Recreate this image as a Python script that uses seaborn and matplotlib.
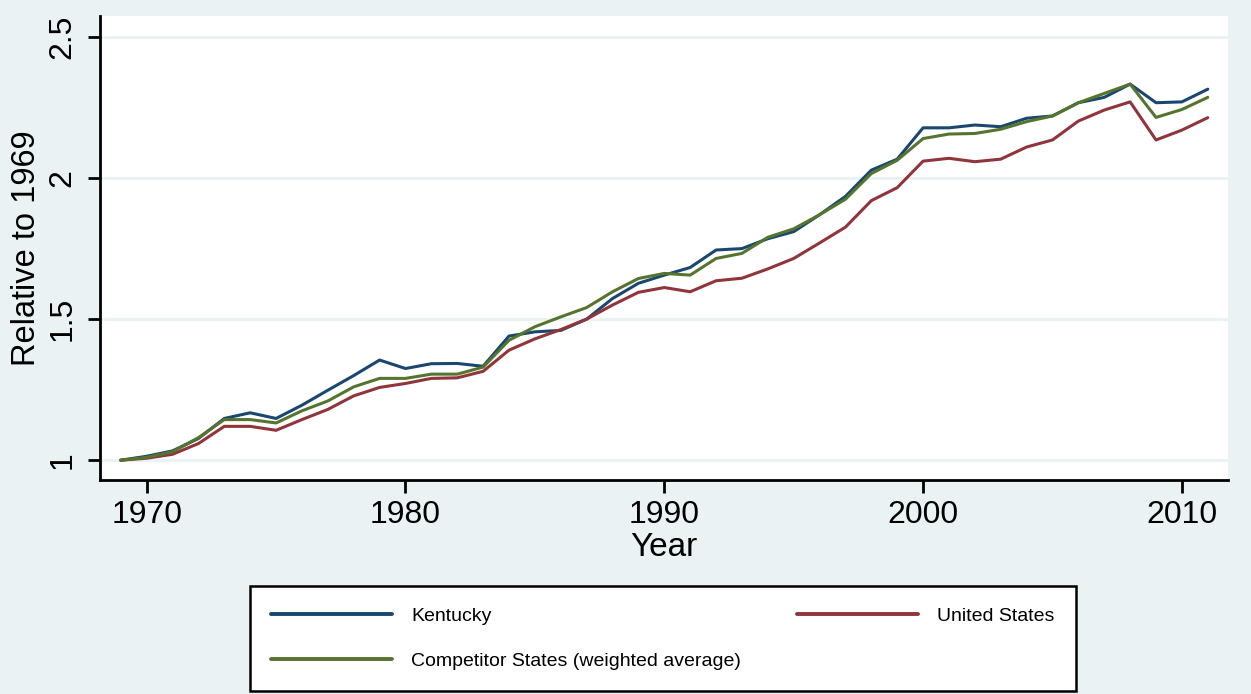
import pandas as pd
import matplotlib.pyplot as plt
import seaborn as sns
import numpy as np

# Data (index, 1969 = 1)
years = list(range(1969, 2012))

kentucky = [1.000, 1.014, 1.033, 1.077, 1.148, 1.168, 1.148, 1.195, 1.248, 1.300,
            1.355, 1.325, 1.342, 1.343, 1.333, 1.440, 1.455, 1.460, 1.500, 1.573,
            1.627, 1.656, 1.683, 1.745, 1.750, 1.785, 1.810, 1.870, 1.935, 2.028,
            2.067, 2.178, 2.178, 2.188, 2.182, 2.212, 2.220, 2.267, 2.286, 2.333,
            2.267, 2.270, 2.315]

united_states = [1.000, 1.007, 1.021, 1.059, 1.120, 1.120, 1.106, 1.144, 1.180, 1.228,
                 1.258, 1.272, 1.290, 1.292, 1.315, 1.390, 1.430, 1.463, 1.500, 1.550,
                 1.595, 1.612, 1.597, 1.636, 1.645, 1.678, 1.715, 1.770, 1.826, 1.920,
                 1.966, 2.060, 2.070, 2.058, 2.067, 2.110, 2.135, 2.202, 2.241, 2.270,
                 2.135, 2.170, 2.214]

competitors = [1.000, 1.010, 1.030, 1.080, 1.144, 1.144, 1.132, 1.175, 1.210, 1.260,
               1.290, 1.290, 1.305, 1.305, 1.330, 1.425, 1.473, 1.508, 1.541, 1.597,
               1.644, 1.662, 1.656, 1.715, 1.733, 1.790, 1.820, 1.870, 1.925, 2.016,
               2.063, 2.140, 2.156, 2.158, 2.173, 2.200, 2.220, 2.267, 2.300, 2.333,
               2.215, 2.243, 2.286]

series_names = ['Kentucky', 'United States', 'Competitor States (weighted average)']
series_colors = ['#1a476f', '#90353b', '#55752f']
y_ticks = [1, 1.5, 2, 2.5]
y_tick_labels = ['1', '1.5', '2', '2.5']
x_ticks = [1970, 1980, 1990, 2000, 2010]

df = pd.DataFrame({
    'Year': years * 3,
    'value': kentucky + united_states + competitors,
    'series': sum([[n] * len(years) for n in series_names], []),
})

sns.set_style('ticks')
plt.rcParams['font.family'] = ['Liberation Sans', 'DejaVu Sans']
plt.rcParams['text.color'] = 'black'
plt.rcParams['axes.labelcolor'] = 'black'
plt.rcParams['xtick.color'] = 'black'
plt.rcParams['ytick.color'] = 'black'

bg = '#eaf2f3'
fig = plt.figure(figsize=(12.51, 6.94), dpi=100, facecolor=bg)
ax = fig.add_axes([0.080, 0.308, 0.902, 0.669])
ax.set_facecolor('white')

sns.lineplot(data=df, x='Year', y='value', hue='series', hue_order=series_names,
             palette=dict(zip(series_names, series_colors)), linewidth=2.2,
             ax=ax, legend=True)

ax.set_xlim(1968.2, 2011.8)
ax.set_ylim(0.929, 2.5745)
ax.set_xticks(x_ticks)
ax.set_yticks(y_ticks)
ax.set_yticklabels(y_tick_labels, rotation=90, va='center')
ax.tick_params(axis='both', labelsize=23, length=9, width=2, colors='black', direction='out')
ax.tick_params(axis='x', pad=5)
ax.tick_params(axis='y', pad=7)
ax.grid(axis='y', color=bg, linewidth=2.2)
ax.set_axisbelow(True)

for side in ['top', 'right']:
    ax.spines[side].set_visible(False)
for side in ['left', 'bottom']:
    ax.spines[side].set_linewidth(2)
    ax.spines[side].set_color('black')

ax.set_xlabel('Year', fontsize=24, labelpad=2)
ax.set_ylabel('Relative to 1969', fontsize=23.5, labelpad=4)

# Stata-style legend below the plot, two columns
handles, labels = ax.get_legend_handles_labels()
ax.get_legend().remove()
order = [0, 2, 1]
leg = fig.legend([handles[i] for i in order], [labels[i] for i in order],
                 loc='upper center', bbox_to_anchor=(0.530, 0.156), ncol=2,
                 fontsize=14, handlelength=6.2, handletextpad=1.0,
                 columnspacing=2.9, labelspacing=1.4, borderpad=1.1,
                 borderaxespad=0, frameon=True, fancybox=False, framealpha=1)
leg.get_frame().set_edgecolor('black')
leg.get_frame().set_linewidth(1.8)
for line in leg.get_lines():
    line.set_linewidth(2.8)

fig.savefig('out.png', dpi=100, facecolor=bg)
